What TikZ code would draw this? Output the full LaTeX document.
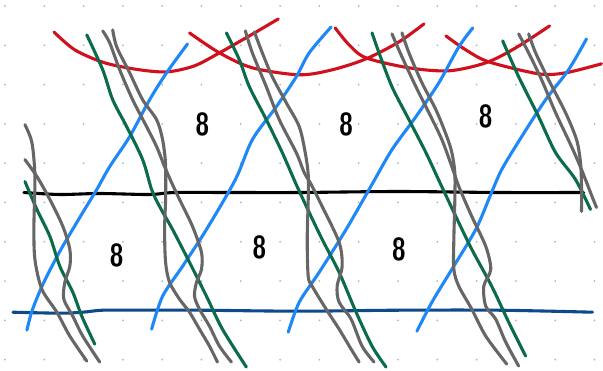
\documentclass[tikz,border=0pt]{standalone}
\usepackage{tikz}
\usetikzlibrary{positioning}
\definecolor{penred}{HTML}{D0101C}
\definecolor{penblue}{HTML}{1E88F8}
\definecolor{pengreen}{HTML}{0B6B4A}
\definecolor{pengray}{HTML}{666666}
\definecolor{pennavy}{HTML}{0D4A8C}
\definecolor{dotgray}{HTML}{B4B4B4}

\begin{document}
\begin{tikzpicture}[x=1pt,y=-1pt,
  pen/.style={line width=3.1pt,line cap=round,line join=round},
  num/.style={font=\sffamily\bfseries\fontsize{32}{32}\selectfont,xscale=0.8}]
  % page and dot grid
  \fill[white] (0,0) rectangle (603,371);
  \foreach \i in {0,...,15} {
    \foreach \j in {0,...,9} {
      \fill[dotgray] (5+39.4*\i,6+39.4*\j) circle (1pt);
    }
  }
  % red arcs along the top
  \draw[pen,penred] plot[smooth] coordinates {(54,32) (75,50) (105,63) (140,70) (168,72) (195,66) (220,53) (250,36) (279,19)};
  \draw[pen,penred] plot[smooth] coordinates {(190,33) (220,53) (253,68) (300,75) (333,70) (367,59) (400,42) (425,24)};
  \draw[pen,penred] plot[smooth] coordinates {(336,28) (350,45) (367,58) (410,68) (450,71) (487,63) (517,48) (551,26)};
  \draw[pen,penred] plot[smooth] coordinates {(447,36) (467,50) (490,62) (540,74) (567,73) (603,64)};
  % horizontal rules
  \draw[pen,black] plot[smooth] coordinates {(24,193) (60,195) (100,194) (150,195) (175,193) (230,193) (300,193) (400,192) (500,193) (585,193)};
  \draw[pen,pennavy] plot[smooth] coordinates {(13,313) (60,314) (83,313) (103,311) (140,311) (200,311) (300,312) (400,311) (500,311) (594,313)};
  % blue strands
  \draw[pen,penblue] plot[smooth] coordinates {(188,44) (167,73) (150,100) (130,137) (110,167) (97,190) (80,218) (60,252) (43,285) (32,312) (27,331)};
  \draw[pen,penblue] plot[smooth] coordinates {(332,27) (310,53) (297,77) (277,107) (253,140) (236,180) (207,230) (183,267) (163,297) (152,330)};
  \draw[pen,penblue] plot[smooth] coordinates {(474,28) (460,47) (440,83) (417,117) (393,150) (374,183) (347,230) (320,273) (300,303) (289,333)};
  \draw[pen,penblue] plot[smooth] coordinates {(588,39) (570,70) (547,100) (523,137) (503,170) (492,195) (477,230) (453,270) (433,303) (418,332)};
  % green strands
  \draw[pen,pengreen] plot[smooth] coordinates {(25,182) (37,210) (50,237) (60,267) (73,293) (82,317) (95,345)};
  \draw[pen,pengreen] plot[smooth] coordinates {(87,35) (103,70) (113,100) (127,127) (143,160) (152,190) (160,207) (173,230) (190,263) (207,297) (223,330) (247,368)};
  \draw[pen,pengreen] plot[smooth] coordinates {(227,33) (240,60) (250,87) (267,120) (283,153) (297,185) (310,213) (323,240) (340,273) (357,313) (373,347) (387,368)};
  \draw[pen,pengreen] plot[smooth] coordinates {(373,33) (380,53) (393,87) (410,120) (427,153) (441,183) (457,217) (473,250) (493,287) (510,323) (527,357)};
  \draw[pen,pengreen] plot[smooth] coordinates {(504,41) (520,77) (540,117) (557,153) (577,180) (592,210)};
  % gray pairs
  \draw[pen,pengray] plot[smooth] coordinates {(25,125) (32,143) (35,177) (34,227) (35,260) (42,290) (57,313) (70,337) (87,362)};
  \draw[pen,pengray] plot[smooth] coordinates {(25,160) (37,177) (50,200) (63,227) (70,250) (70,267) (65,283) (64,300) (73,317) (83,337) (100,363)};
  \draw[pen,pengray] plot[smooth] coordinates {(113,30) (117,47) (130,73) (143,100) (157,120) (163,140) (166,165) (166,200) (165,230) (166,263) (170,283) (180,300) (190,313) (200,330) (210,347) (218,363)};
  \draw[pen,pengray] plot[smooth] coordinates {(103,31) (110,43) (120,70) (133,100) (147,127) (157,147) (165,167) (172,183) (180,200) (193,227) (202,253) (202,270) (197,283) (195,297) (200,310) (210,327) (220,347) (232,363)};
  \draw[pen,pengray] plot[smooth] coordinates {(255,32) (263,53) (273,77) (287,103) (300,127) (306,153) (309,175) (309,200) (308,240) (309,277) (313,287) (327,310) (340,330) (352,350) (360,363)};
  \draw[pen,pengray] plot[smooth] coordinates {(246,31) (253,53) (267,87) (280,120) (297,153) (305,173) (312,185) (323,207) (340,243) (343,267) (338,287) (340,303) (352,320) (363,347) (375,363)};
  \draw[pen,pengray] plot[smooth] coordinates {(403,33) (410,53) (423,83) (437,110) (448,137) (453,153) (456,173) (456,200) (455,240) (455,270) (460,287) (473,310) (487,337) (508,365)};
  \draw[pen,pengray] plot[smooth] coordinates {(393,34) (403,57) (417,87) (430,113) (443,140) (453,167) (460,187) (473,217) (487,247) (492,270) (485,287) (487,307) (497,320) (507,343) (520,367)};
  \draw[pen,pengray] plot[smooth] coordinates {(520,34) (530,53) (543,80) (557,113) (573,147) (583,170) (592,193) (598,208)};
  \draw[pen,pengray] plot[smooth] coordinates {(530,34) (537,53) (550,80) (567,113) (578,140) (582,163) (583,187) (583,212)};
  % cell labels
  \foreach \nm/\x/\y in {u1/203/125,u2/347/125,u3/487/117,l1/117/256,l2/260/248,l3/400/250} {
    \node[num] (\nm) at (\x,\y) {8};
  }
\end{tikzpicture}
\end{document}
